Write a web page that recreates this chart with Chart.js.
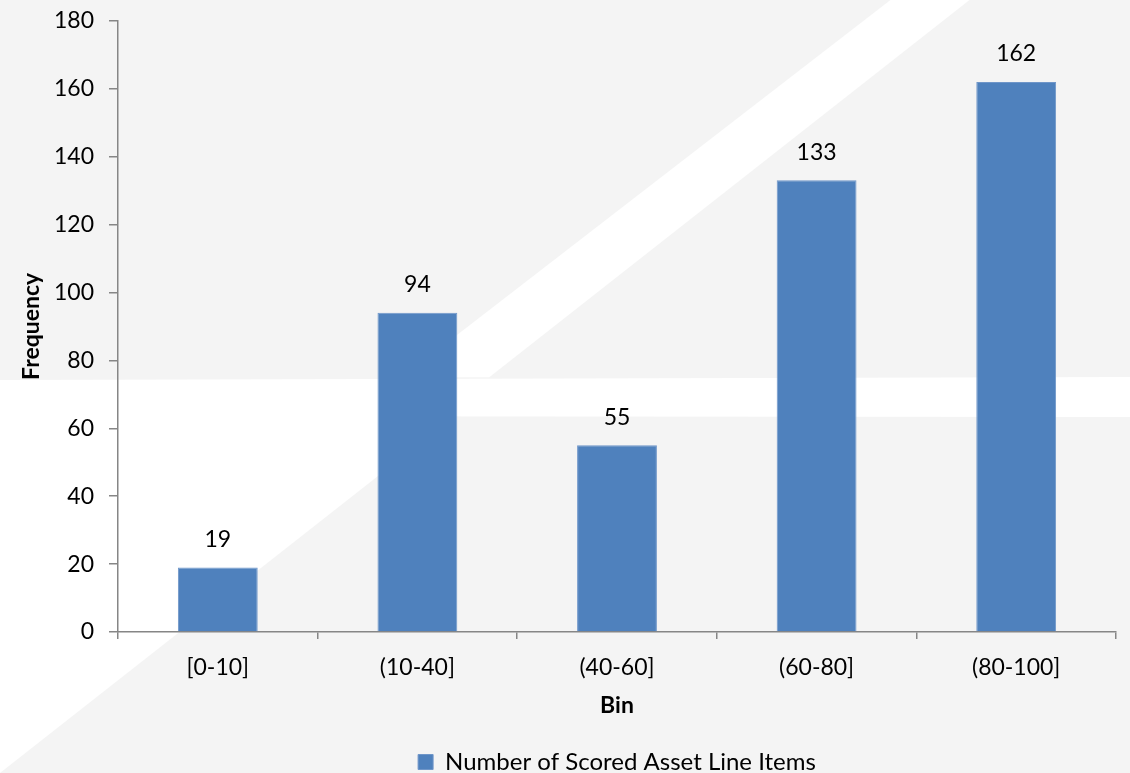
<!DOCTYPE html>
<html>
<head>
<meta charset="utf-8">
<script src="https://cdn.jsdelivr.net/npm/chart.js@4.4.0/dist/chart.umd.min.js"></script>
<style>
  html, body { margin: 0; padding: 0; background: #f4f4f4; }
  #wrap { width: 1130px; height: 773px; position: relative; }
</style>
</head>
<body>
<div id="wrap"><canvas id="c"></canvas></div>
<script>
const categories = ['[0-10]', '(10-40]', '(40-60]', '(60-80]', '(80-100]'];
const seriesName = 'Number of Scored Asset Line Items';
const frequencies = [19, 94, 55, 133, 162];
const yTicks = [0, 20, 40, 60, 80, 100, 120, 140, 160, 180];

const FONT = 'Lato, "Open Sans", sans-serif';

const backgroundPlugin = {
  id: 'bgDeco',
  beforeDraw(chart) {
    const ctx = chart.ctx;
    const W = chart.width, H = chart.height;
    ctx.save();
    ctx.fillStyle = '#f4f4f4';
    ctx.fillRect(0, 0, W, H);
    ctx.fillStyle = '#ffffff';
    // diagonal band
    ctx.beginPath();
    ctx.moveTo(W * 0.788, 0);
    ctx.lineTo(W * 0.858, 0);
    ctx.lineTo(W * 0.433, H * 0.488);
    ctx.lineTo(W * 0.356, H * 0.488);
    ctx.closePath();
    ctx.fill();
    // horizontal band
    ctx.beginPath();
    ctx.moveTo(0, H * 0.4916);
    ctx.lineTo(W, H * 0.4877);
    ctx.lineTo(W, H * 0.5395);
    ctx.lineTo(0, H * 0.5382);
    ctx.closePath();
    ctx.fill();
    // lower-left triangle
    ctx.beginPath();
    ctx.moveTo(0, H * 0.535);
    ctx.lineTo(W * 0.405, H * 0.535);
    ctx.lineTo(0, H);
    ctx.closePath();
    ctx.fill();
    ctx.restore();
  }
};

const valueLabelPlugin = {
  id: 'valueLabels',
  afterDatasetsDraw(chart) {
    const ctx = chart.ctx;
    ctx.save();
    ctx.font = '23px ' + FONT;
    ctx.fillStyle = '#000';
    ctx.textAlign = 'center';
    ctx.textBaseline = 'middle';
    chart.data.datasets.forEach((ds, di) => {
      const meta = chart.getDatasetMeta(di);
      meta.data.forEach((bar, i) => {
        ctx.fillText(String(ds.data[i]), bar.x, bar.y - 28);
      });
    });
    ctx.restore();
  }
};

new Chart(document.getElementById('c'), {
  type: 'bar',
  data: {
    labels: categories,
    datasets: [{
      label: seriesName,
      data: frequencies,
      backgroundColor: '#4f81bd',
      borderColor: '#6f96c9',
      borderWidth: 1,
      barPercentage: 0.4,
      categoryPercentage: 1.0
    }]
  },
  options: {
    responsive: true,
    maintainAspectRatio: false,
    devicePixelRatio: 1,
    animation: false,
    layout: { padding: { top: 20, right: 14, left: 0, bottom: 0 } },
    plugins: {
      legend: {
        position: 'bottom',
        fullSize: false,
        maxHeight: 24,
        labels: {
          boxWidth: 15,
          boxHeight: 15,
          padding: 1,
          color: '#000',
          font: { family: FONT, size: 24 }
        }
      },
      tooltip: { enabled: false }
    },
    scales: {
      x: {
        grid: { drawOnChartArea: false, drawTicks: true, tickLength: 7, color: '#868686', lineWidth: 1.5, offset: true },
        border: { color: '#868686', width: 1.5 },
        ticks: { color: '#000', padding: 15, font: { family: FONT, size: 23 } },
        title: { display: true, text: 'Bin', color: '#000', font: { family: FONT, size: 23, weight: 'bold' }, padding: { top: 0, bottom: 30 } },
        afterFit(scale) { scale.height = 117; }
      },
      y: {
        min: 0,
        max: 180,
        afterBuildTicks(scale) { scale.ticks = yTicks.map(v => ({ value: v })); },
        grid: { drawOnChartArea: false, drawTicks: true, tickLength: 9, color: '#868686', lineWidth: 1.5 },
        border: { color: '#868686', width: 1.5 },
        ticks: { color: '#000', padding: 15, font: { family: FONT, size: 23, lineHeight: 0.5 } },
        title: { display: true, text: 'Frequency', color: '#000', font: { family: FONT, size: 23, weight: 'bold' }, padding: { top: 18, bottom: 0 } },
        afterFit(scale) { scale.width = 118; }
      }
    }
  },
  plugins: [backgroundPlugin, valueLabelPlugin]
});
</script>
</body>
</html>
